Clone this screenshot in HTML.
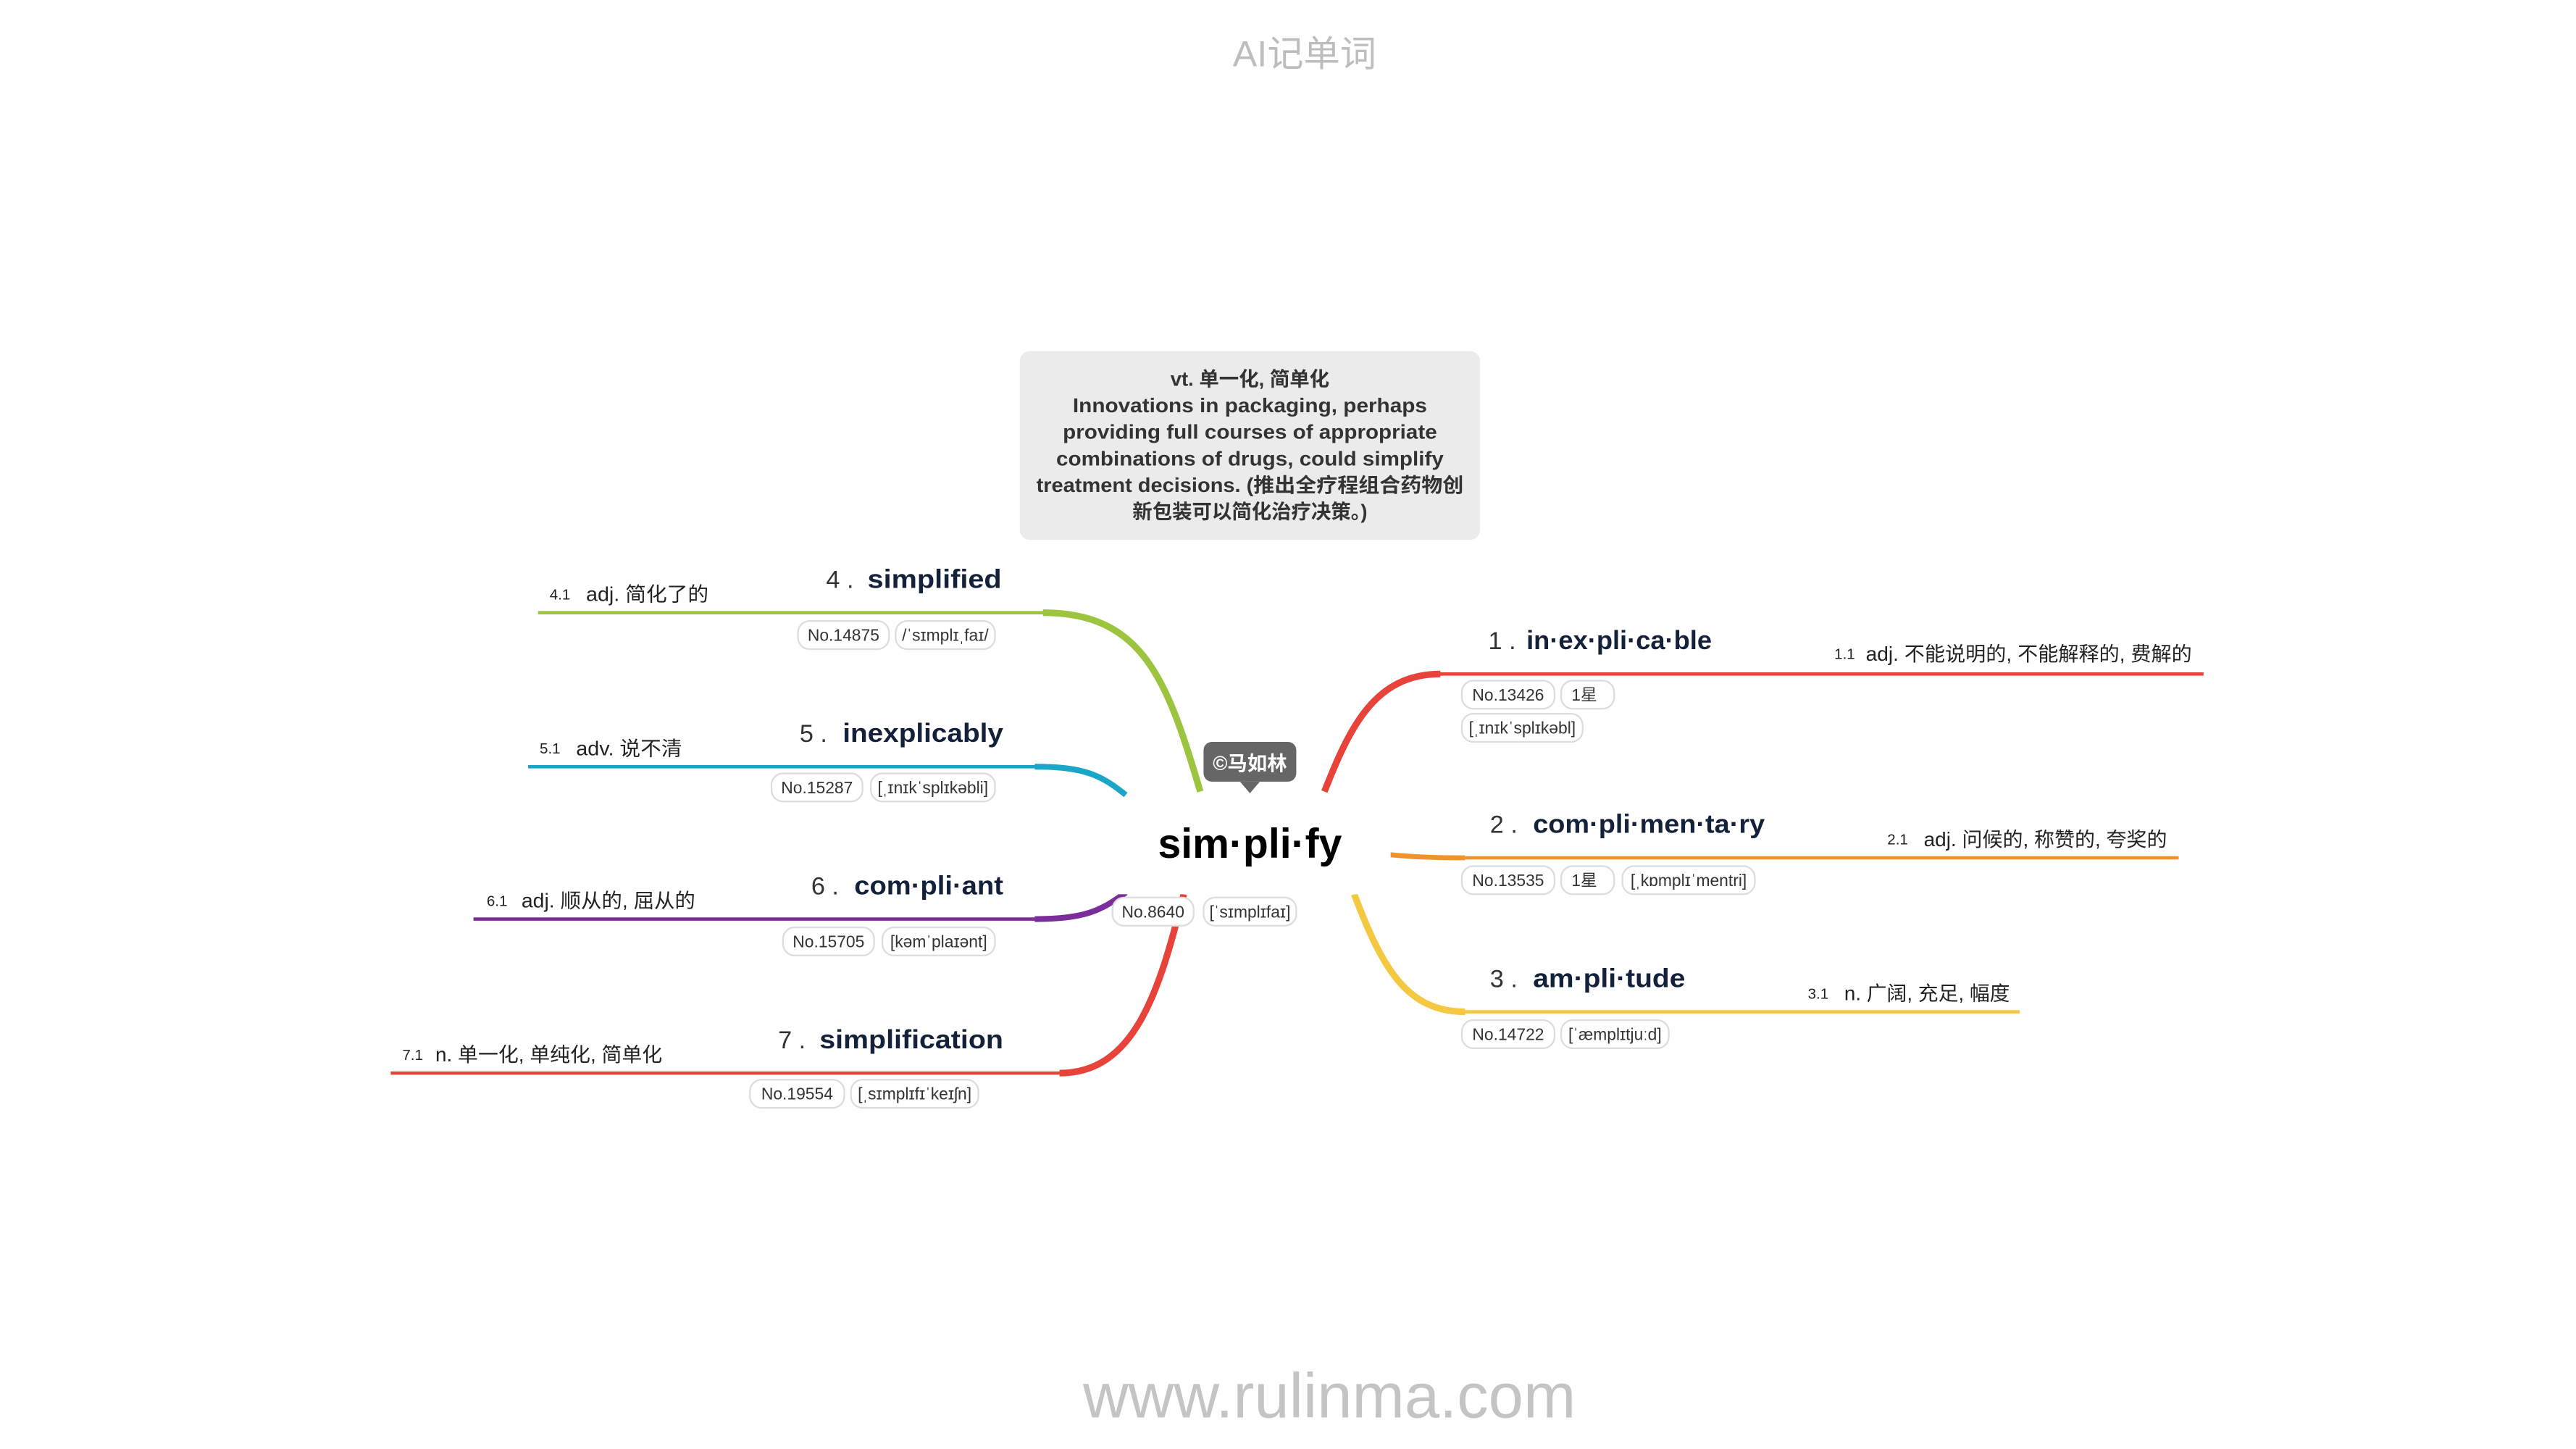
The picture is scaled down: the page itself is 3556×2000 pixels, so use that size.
<!DOCTYPE html>
<html><head><meta charset="utf-8"><style>
html,body{margin:0;padding:0;background:#fff;}
svg{display:block;}
text{font-family:"Liberation Sans","Noto Sans CJK SC",sans-serif;}
.t{font-weight:bold;fill:#14213a;font-size:16px;}
.n{fill:#333;font-size:15px;}
.d{fill:#222;font-size:12px;}
.dn{fill:#222;font-size:9px;}
.tag rect{fill:#fff;stroke:#ddd;stroke-width:1;}
.tag text{fill:#333;font-size:10px;}
</style></head><body>
<svg width="3556" height="2000" viewBox="0 0 1556 875" preserveAspectRatio="none">
<text x="788" y="40" text-anchor="middle" style="font-size:22px;fill:#bdbdbd">AI记单词</text>
<text x="803" y="856" text-anchor="middle" style="font-size:38px;fill:#c4c4c4">www.rulinma.com</text>

<g>
<rect x="616" y="212" width="278" height="114" rx="6" fill="#ebebeb"/>
<g style="font-size:12px;font-weight:bold;fill:#333" text-anchor="middle">
<text x="755" y="233">vt. 单一化, 简单化</text>
<text x="755" y="249" textLength="214" lengthAdjust="spacingAndGlyphs">Innovations in packaging, perhaps</text>
<text x="755" y="265" textLength="226" lengthAdjust="spacingAndGlyphs">providing full courses of appropriate</text>
<text x="755" y="281" textLength="234" lengthAdjust="spacingAndGlyphs">combinations of drugs, could simplify</text>
<text x="755" y="297" textLength="258" lengthAdjust="spacingAndGlyphs">treatment decisions. (推出全疗程组合药物创</text>
<text x="755" y="313">新包装可以简化治疗决策。)</text>
</g></g>

<g fill="none" stroke-linecap="butt">
<path d="M800,478 C815,440 830,407 870,407" stroke="#e8433a" stroke-width="4"/>
<line x1="868" y1="407" x2="1331" y2="407" stroke="#e8433a" stroke-width="2"/>
<path d="M838,516 C850,517 860,518 885,518" stroke="#f0932b" stroke-width="3"/>
<line x1="883" y1="518" x2="1316" y2="518" stroke="#f0932b" stroke-width="2"/>
<path d="M818,540 C835,585 850,611 885,611" stroke="#f5c842" stroke-width="4"/>
<line x1="883" y1="611" x2="1220" y2="611" stroke="#f5c842" stroke-width="2"/>
<path d="M725,478 C705,410 690,370 630,370" stroke="#9dc43f" stroke-width="4"/>
<line x1="632" y1="370" x2="325" y2="370" stroke="#9dc43f" stroke-width="2"/>
<path d="M680,480 C665,468 655,463 625,463" stroke="#1aa6c8" stroke-width="3.5"/>
<line x1="627" y1="463" x2="319" y2="463" stroke="#1aa6c8" stroke-width="2"/>
<path d="M680,539 C665,550 655,555 625,555" stroke="#7b2d9b" stroke-width="3.5"/>
<line x1="627" y1="555" x2="286" y2="555" stroke="#7b2d9b" stroke-width="2"/>
<path d="M715,540 C700,600 685,648 640,648" stroke="#e8433a" stroke-width="4"/>
<line x1="642" y1="648" x2="236" y2="648" stroke="#e8433a" stroke-width="2"/>
</g>

<rect x="660" y="482" width="180" height="58" fill="#fff"/>
<g>
<rect x="727" y="448" width="56" height="24" rx="5" fill="#666"/>
<polygon points="749,472 761,472 755,479" fill="#666"/>
<text x="755" y="465" text-anchor="middle" style="font-size:12px;font-weight:bold;fill:#fff">©马如林</text>
</g>
<text x="755" y="518" text-anchor="middle" style="font-size:25px;font-weight:bold;fill:#000">sim·pli·fy</text>
<g class="tag">
<rect x="672" y="542" width="49" height="17" rx="7"/><text x="696.5" y="554" text-anchor="middle">No.8640</text>
<rect x="727" y="542" width="56" height="17" rx="7"/><text x="755" y="554" text-anchor="middle">[ˈsɪmplɪfaɪ]</text>
</g>

<!-- right side -->
<g>
<text class="n" x="899" y="392">1 .</text><text class="t" x="922" y="392" textLength="112" lengthAdjust="spacingAndGlyphs">in·ex·pli·ca·ble</text>
<text class="dn" x="1108" y="398">1.1</text><text class="d" x="1127" y="399" textLength="197" lengthAdjust="spacingAndGlyphs">adj. 不能说明的, 不能解释的, 费解的</text>
<g class="tag"><rect x="883" y="411" width="56" height="17" rx="7"/><text x="911" y="423" text-anchor="middle">No.13426</text>
<rect x="943" y="411" width="32" height="17" rx="7"/><text x="957" y="423" text-anchor="middle">1星</text>
<rect x="883" y="431" width="73" height="17" rx="7"/><text x="919.5" y="443" text-anchor="middle">[ˌɪnɪkˈsplɪkəbl]</text></g>
</g>
<g>
<text class="n" x="900" y="503">2 .</text><text class="t" x="926" y="503" textLength="140" lengthAdjust="spacingAndGlyphs">com·pli·men·ta·ry</text>
<text class="dn" x="1140" y="510">2.1</text><text class="d" x="1162" y="511" textLength="147" lengthAdjust="spacingAndGlyphs">adj. 问候的, 称赞的, 夸奖的</text>
<g class="tag"><rect x="883" y="523" width="56" height="17" rx="7"/><text x="911" y="535" text-anchor="middle">No.13535</text>
<rect x="943" y="523" width="32" height="17" rx="7"/><text x="957" y="535" text-anchor="middle">1星</text>
<rect x="980" y="523" width="80" height="17" rx="7"/><text x="1020" y="535" text-anchor="middle">[ˌkɒmplɪˈmentri]</text></g>
</g>
<g>
<text class="n" x="900" y="596">3 .</text><text class="t" x="926" y="596" textLength="92" lengthAdjust="spacingAndGlyphs">am·pli·tude</text>
<text class="dn" x="1092" y="603">3.1</text><text class="d" x="1114" y="604" textLength="100" lengthAdjust="spacingAndGlyphs">n. 广阔, 充足, 幅度</text>
<g class="tag"><rect x="883" y="616" width="56" height="17" rx="7"/><text x="911" y="628" text-anchor="middle">No.14722</text>
<rect x="943" y="616" width="65" height="17" rx="7"/><text x="975.5" y="628" text-anchor="middle">[ˈæmplɪtjuːd]</text></g>
</g>

<!-- left side -->
<g>
<text class="n" x="499" y="355">4 .</text><text class="t" x="605" y="355" text-anchor="end" textLength="81" lengthAdjust="spacingAndGlyphs">simplified</text>
<text class="dn" x="332" y="362">4.1</text><text class="d" x="354" y="363" textLength="74" lengthAdjust="spacingAndGlyphs">adj. 简化了的</text>
<g class="tag"><rect x="482" y="375" width="55" height="17" rx="7"/><text x="509.5" y="387" text-anchor="middle">No.14875</text>
<rect x="541" y="375" width="60" height="17" rx="7"/><text x="571" y="387" text-anchor="middle">/ˈsɪmplɪˌfaɪ/</text></g>
</g>
<g>
<text class="n" x="483" y="448">5 .</text><text class="t" x="606" y="448" text-anchor="end" textLength="97" lengthAdjust="spacingAndGlyphs">inexplicably</text>
<text class="dn" x="326" y="455">5.1</text><text class="d" x="348" y="456" textLength="64" lengthAdjust="spacingAndGlyphs">adv. 说不清</text>
<g class="tag"><rect x="466" y="467" width="55" height="17" rx="7"/><text x="493.5" y="479" text-anchor="middle">No.15287</text>
<rect x="526" y="467" width="75" height="17" rx="7"/><text x="563.5" y="479" text-anchor="middle">[ˌɪnɪkˈsplɪkəbli]</text></g>
</g>
<g>
<text class="n" x="490" y="540">6 .</text><text class="t" x="606" y="540" text-anchor="end" textLength="90" lengthAdjust="spacingAndGlyphs">com·pli·ant</text>
<text class="dn" x="294" y="547">6.1</text><text class="d" x="315" y="548" textLength="105" lengthAdjust="spacingAndGlyphs">adj. 顺从的, 屈从的</text>
<g class="tag"><rect x="473" y="560" width="55" height="17" rx="7"/><text x="500.5" y="572" text-anchor="middle">No.15705</text>
<rect x="533" y="560" width="68" height="17" rx="7"/><text x="567" y="572" text-anchor="middle">[kəmˈplaɪənt]</text></g>
</g>
<g>
<text class="n" x="470" y="633">7 .</text><text class="t" x="606" y="633" text-anchor="end" textLength="111" lengthAdjust="spacingAndGlyphs">simplification</text>
<text class="dn" x="243" y="640">7.1</text><text class="d" x="263" y="641" textLength="137" lengthAdjust="spacingAndGlyphs">n. 单一化, 单纯化, 简单化</text>
<g class="tag"><rect x="453" y="652" width="57" height="17" rx="7"/><text x="481.5" y="664" text-anchor="middle">No.19554</text>
<rect x="514" y="652" width="77" height="17" rx="7"/><text x="552.5" y="664" text-anchor="middle">[ˌsɪmplɪfɪˈkeɪʃn]</text></g>
</g>
</svg>
</body></html>
